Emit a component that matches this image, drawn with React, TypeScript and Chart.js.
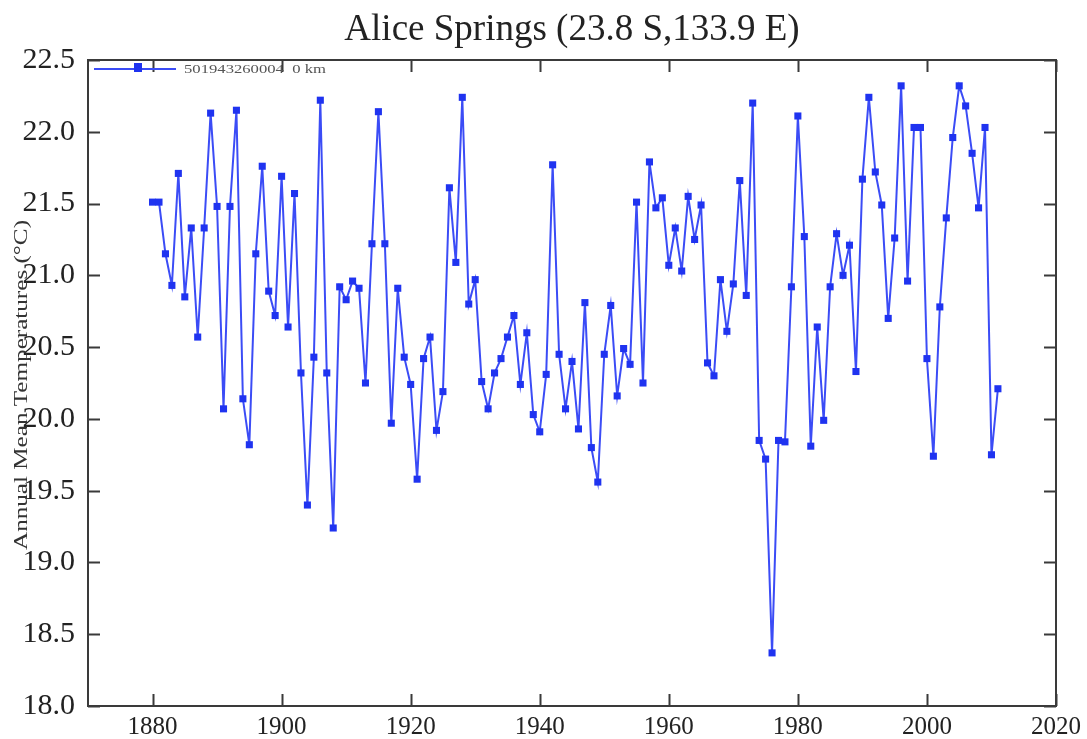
import React, { useEffect, useRef } from "react";
import { Chart, registerables } from "chart.js";

Chart.register(...registerables);

const chartTitle = "Alice Springs (23.8 S,133.9 E)";
const yAxisTitle = "Annual Mean Temperatures (\u00B0C)";
const seriesLabel = "501943260004  0 km";

const years = [
  1880, 1881, 1882, 1883, 1884, 1885, 1886, 1887, 1888, 1889,
  1890, 1891, 1892, 1893, 1894, 1895, 1896, 1897, 1898, 1899,
  1900, 1901, 1902, 1903, 1904, 1905, 1906, 1907, 1908, 1909,
  1910, 1911, 1912, 1913, 1914, 1915, 1916, 1917, 1918, 1919,
  1920, 1921, 1922, 1923, 1924, 1925, 1926, 1927, 1928, 1929,
  1930, 1931, 1932, 1933, 1934, 1935, 1936, 1937, 1938, 1939,
  1940, 1941, 1942, 1943, 1944, 1945, 1946, 1947, 1948, 1949,
  1950, 1951, 1952, 1953, 1954, 1955, 1956, 1957, 1958, 1959,
  1960, 1961, 1962, 1963, 1964, 1965, 1966, 1967, 1968, 1969,
  1970, 1971, 1972, 1973, 1974, 1975, 1976, 1977, 1978, 1979,
  1980, 1981, 1982, 1983, 1984, 1985, 1986, 1987, 1988, 1989,
  1990, 1991, 1992, 1993, 1994, 1995, 1996, 1997, 1998, 1999,
  2000, 2001, 2002, 2003, 2004, 2005, 2006, 2007, 2008, 2009,
  2010, 2011,
];

const temps = [
  21.51, 21.51, 21.15, 20.93, 21.71, 20.85, 21.33, 20.57, 21.33, 22.13,
  21.48, 20.07, 21.48, 22.15, 20.14, 19.82, 21.15, 21.76, 20.89, 20.72,
  21.69, 20.64, 21.57, 20.32, 19.40, 20.43, 22.22, 20.32, 19.24, 20.92,
  20.83, 20.96, 20.91, 20.25, 21.22, 22.14, 21.22, 19.97, 20.91, 20.43,
  20.24, 19.58, 20.42, 20.57, 19.92, 20.19, 21.61, 21.09, 22.24, 20.80,
  20.97, 20.26, 20.07, 20.32, 20.42, 20.57, 20.72, 20.24, 20.60, 20.03,
  19.91, 20.31, 21.77, 20.45, 20.07, 20.40, 19.93, 20.81, 19.80, 19.56,
  20.45, 20.79, 20.16, 20.49, 20.38, 21.51, 20.25, 21.79, 21.47, 21.54,
  21.07, 21.33, 21.03, 21.55, 21.25, 21.49, 20.39, 20.30, 20.97, 20.61,
  20.94, 21.66, 20.86, 22.20, 19.85, 19.72, 18.37, 19.85, 19.84, 20.92,
  22.11, 21.27, 19.81, 20.64, 19.99, 20.92, 21.29, 21.00, 21.21, 20.33,
  21.67, 22.24, 21.72, 21.49, 20.70, 21.26, 22.32, 20.96, 22.03, 22.03,
  20.42, 19.74, 20.78, 21.40, 21.96, 22.32, 22.18, 21.85, 21.47, 22.03,
  19.75, 20.21,
];

const xTicks = [1880, 1900, 1920, 1940, 1960, 1980, 2000, 2020];
const yTicks = [18.0, 18.5, 19.0, 19.5, 20.0, 20.5, 21.0, 21.5, 22.0, 22.5];

const LINE_COLOR = "#3b4cf6";
const POINT_COLOR = "#1f33f0";
const AXIS_COLOR = "#3a3a3a";
const TEXT_COLOR = "#222222";
const SERIF = "'Liberation Serif', 'DejaVu Serif', serif";

const framePlugin = {
  id: "framePlugin",
  afterDraw(chart: any) {
    const { ctx, chartArea, scales } = chart;
    const { left, right, top, bottom } = chartArea;
    const xs = scales.x;
    const ys = scales.y;
    ctx.save();
    ctx.strokeStyle = AXIS_COLOR;
    ctx.lineWidth = 2;
    ctx.strokeRect(left, top, right - left, bottom - top);
    const tl = 12;
    ctx.beginPath();
    xTicks.forEach((v) => {
      const px = Math.round(xs.getPixelForValue(v)) + 0.5;
      ctx.moveTo(px, bottom);
      ctx.lineTo(px, bottom - tl);
      ctx.moveTo(px, top);
      ctx.lineTo(px, top + tl);
    });
    yTicks.forEach((v) => {
      const py = Math.round(ys.getPixelForValue(v)) + 0.5;
      ctx.moveTo(left, py);
      ctx.lineTo(left + tl, py);
      ctx.moveTo(right, py);
      ctx.lineTo(right - tl, py);
    });
    ctx.stroke();

    // title
    ctx.fillStyle = TEXT_COLOR;
    ctx.font = `37px ${SERIF}`;
    ctx.textAlign = "center";
    ctx.textBaseline = "middle";
    ctx.fillText(chartTitle, (left + right) / 2, 30);

    // y axis title
    ctx.save();
    ctx.translate(22, (top + bottom) / 2 + 2);
    ctx.rotate(-Math.PI / 2);
    ctx.font = `18px ${SERIF}`;
    const w = ctx.measureText(yAxisTitle).width;
    ctx.scale(330 / w, 1);
    ctx.fillStyle = "#333333";
    ctx.fillText(yAxisTitle, 0, 0);
    ctx.restore();

    // legend inside plot
    const ly = top + 9;
    ctx.strokeStyle = LINE_COLOR;
    ctx.lineWidth = 2;
    ctx.beginPath();
    ctx.moveTo(left + 6, ly);
    ctx.lineTo(left + 88, ly);
    ctx.stroke();
    ctx.fillStyle = POINT_COLOR;
    ctx.fillRect(left + 50 - 4, ly - 6, 8, 9);
    ctx.font = `12px ${SERIF}`;
    ctx.textAlign = "left";
    ctx.fillStyle = "#555555";
    ctx.save();
    ctx.translate(left + 96, ly + 1);
    const lw = ctx.measureText(seriesLabel).width;
    ctx.scale(142 / lw, 1);
    ctx.fillText(seriesLabel, 0, 0);
    ctx.restore();
    ctx.restore();
  },
};

export default function App() {
  const canvasRef = useRef<HTMLCanvasElement | null>(null);

  useEffect(() => {
    document.body.style.margin = "0";
    const canvas = canvasRef.current;
    if (!canvas) return;
    const points = years.map((yr, i) => ({ x: yr, y: temps[i] }));
    const chart = new Chart(canvas, {
      type: "line",
      data: {
        datasets: [
          {
            label: seriesLabel,
            data: points,
            borderColor: LINE_COLOR,
            backgroundColor: POINT_COLOR,
            borderWidth: 2,
            pointStyle: "rect",
            pointRadius: 5,
            pointBorderWidth: 0,
            pointBackgroundColor: POINT_COLOR,
            tension: 0,
          },
        ],
      },
      options: {
        animation: false,
        responsive: false,
        maintainAspectRatio: false,
        layout: { padding: { top: 60, right: 30, left: 0, bottom: 0 } },
        plugins: {
          legend: { display: false },
          title: { display: false },
          tooltip: { enabled: false },
        },
        scales: {
          x: {
            type: "linear",
            min: 1870,
            max: 2020,
            afterFit(scale: any) {
              scale.height = 33;
            },
            afterBuildTicks(scale: any) {
              scale.ticks = xTicks.map((v) => ({ value: v }));
            },
            grid: { display: false, drawTicks: false },
            border: { display: false },
            ticks: {
              color: TEXT_COLOR,
              font: { family: SERIF, size: 25 },
              padding: 6,
              maxRotation: 0,
              autoSkip: false,
              callback: (v: any) => String(v),
            },
          },
          y: {
            type: "linear",
            min: 18,
            max: 22.5,
            afterFit(scale: any) {
              scale.width = 88;
            },
            afterBuildTicks(scale: any) {
              scale.ticks = yTicks.map((v) => ({ value: v }));
            },
            grid: { display: false, drawTicks: false },
            border: { display: false },
            ticks: {
              color: TEXT_COLOR,
              font: { family: SERIF, size: 30 },
              padding: 13,
              autoSkip: false,
              callback: (v: any) => Number(v).toFixed(1),
            },
          },
        },
      },
      plugins: [framePlugin],
    });
    return () => chart.destroy();
  }, []);

  return (
    <div style={{ width: 1087, height: 739, background: "#ffffff" }}>
      <canvas ref={canvasRef} width={1087} height={739} style={{ display: "block" }} />
    </div>
  );
}
